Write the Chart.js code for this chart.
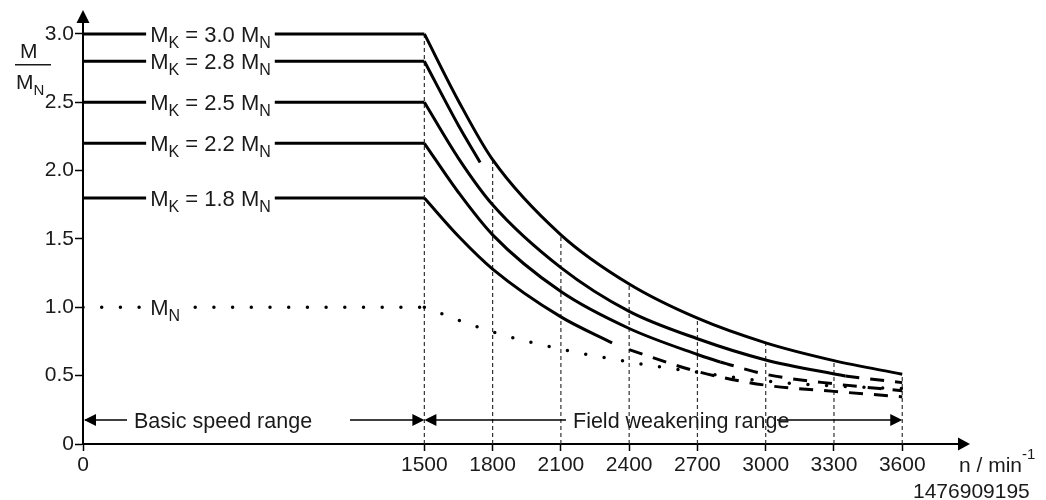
<!DOCTYPE html>
<html lang="en">
<head>
  <meta charset="UTF-8">
  <title>Torque vs speed, field weakening</title>
  <script src="https://cdn.jsdelivr.net/npm/chart.js"></script>
  <style>
    body { margin: 0; background: #fff; }
    .wrap { width: 1046px; height: 500px; }
  </style>
</head>
<body>
  <div class="wrap"><canvas id="torqueChart"></canvas></div>

  <script>
    // axis ticks
    const speedTicks = [0, 1500, 1800, 2100, 2400, 2700, 3000, 3300, 3600];
    const torqueTicks = [0, 0.5, 1.0, 1.5, 2.0, 2.5, 3.0];

    // breakdown torque levels M_K / M_N in the basic speed range
    const kLevels = [3.0, 2.8, 2.5, 2.2, 1.8];
    const kLabels = ['3.0', '2.8', '2.5', '2.2', '1.8'];
    const baseEnd = 1500;

    // field weakening curves, solid parts
    const n30 = [1500, 1650, 1800, 2100, 2400, 2700, 3000, 3300, 3600];
    const m30 = [3.0, 2.51, 2.08, 1.53, 1.17, 0.92, 0.74, 0.61, 0.51];
    const n28 = [1500, 1650, 1745];
    const m28 = [2.8, 2.33, 2.06];
    const n25 = [1500, 1650, 1800, 2100, 2400, 2700, 3000, 3350];
    const m25 = [2.5, 2.09, 1.75, 1.29, 0.97, 0.77, 0.615, 0.497];
    const n22 = [1500, 1650, 1800, 2100, 2400, 2700, 2800];
    const m22 = [2.2, 1.84, 1.53, 1.115, 0.845, 0.655, 0.60];
    const n18 = [1500, 1650, 1800, 2100, 2325];
    const m18 = [1.8, 1.52, 1.28, 0.93, 0.74];

    // dashed continuations
    const n25d = [3350, 3600];
    const m25d = [0.497, 0.449];
    const n22d = [2800, 3000, 3300, 3600];
    const m22d = [0.60, 0.51, 0.44, 0.39];
    const n18d = [2400, 2700, 3000, 3300, 3600];
    const m18d = [0.69, 0.53, 0.43, 0.385, 0.345];

    // rated torque M_N (dotted)
    const nMN = [1500, 1800, 2100, 2400, 2700, 3000, 3300, 3600];
    const mMN = [1.0, 0.82, 0.695, 0.60, 0.525, 0.46, 0.425, 0.405];

    const pts = (ns, ms) => ns.map((n, i) => ({ x: n, y: ms[i] }));

    const solid = (data) => ({
      data, borderColor: '#000', borderWidth: 3, pointRadius: 0,
      cubicInterpolationMode: 'monotone', borderCapStyle: 'butt', order: 1
    });
    const dashed = (data) => ({
      data, borderColor: '#000', borderWidth: 3, pointRadius: 0,
      cubicInterpolationMode: 'monotone', borderDash: [14, 11], order: 1
    });
    const dotted = (data) => ({
      data, borderColor: '#000', borderWidth: 3.5, pointRadius: 0,
      cubicInterpolationMode: 'monotone', borderDash: [0, 18.7],
      borderCapStyle: 'round', order: 1
    });

    const datasets = [];
    kLevels.forEach(k => datasets.push(solid([{ x: 0, y: k }, { x: baseEnd, y: k }])));
    datasets.push(solid(pts(n30, m30)));
    datasets.push(solid(pts(n28, m28)));
    datasets.push(solid(pts(n25, m25)));
    datasets.push(solid(pts(n22, m22)));
    datasets.push(solid(pts(n18, m18)));
    datasets.push(dashed(pts(n25d, m25d)));
    datasets.push(dashed(pts(n22d, m22d)));
    datasets.push(dashed(pts(n18d, m18d)));
    datasets.push(dotted([{ x: 0, y: 1.0 }, { x: baseEnd, y: 1.0 }]));
    datasets.push(dotted(pts(nMN, mMN)));

    // thin dashed drop lines from the top curve down to the axis
    speedTicks.filter(n => n >= baseEnd).forEach(n => {
      const top = m30[n30.indexOf(n)];
      datasets.push({
        data: [{ x: n, y: 0 }, { x: n, y: top }],
        borderColor: '#333', borderWidth: 1.2, borderDash: [4, 3],
        pointRadius: 0, order: 5
      });
    });

    const FONT = "'Liberation Sans', Arial, Helvetica, sans-serif";

    // draws text with subscripts / superscripts, returns width
    function richText(ctx, parts, x, y, measureOnly, size) {
      const main = size || 21;
      let cx = x;
      parts.forEach(p => {
        ctx.font = (p.sub || p.sup ? Math.round(main * 0.72) : main) + 'px ' + FONT;
        const dy = p.sub ? 6 : (p.sup ? -13 : 0);
        if (!measureOnly) ctx.fillText(p.t, cx, y + dy);
        cx += ctx.measureText(p.t).width;
      });
      return cx - x;
    }

    function arrowHead(ctx, tipX, tipY, dir, len, half) {
      ctx.beginPath();
      if (dir === 'left' || dir === 'right') {
        const s = dir === 'right' ? -1 : 1;
        ctx.moveTo(tipX, tipY);
        ctx.lineTo(tipX + s * len, tipY - half);
        ctx.lineTo(tipX + s * len, tipY + half);
      } else {
        ctx.moveTo(tipX, tipY);
        ctx.lineTo(tipX - half, tipY + len);
        ctx.lineTo(tipX + half, tipY + len);
      }
      ctx.closePath();
      ctx.fill();
    }

    const overlay = {
      id: 'overlay',
      afterDraw(chart) {
        const { ctx, chartArea: ca, scales: { x, y } } = chart;
        ctx.save();
        ctx.fillStyle = '#000';
        ctx.strokeStyle = '#000';
        ctx.textBaseline = 'alphabetic';
        ctx.textAlign = 'left';

        // axis arrows
        arrowHead(ctx, ca.right + 12, ca.bottom, 'right', 12, 6.5);
        arrowHead(ctx, ca.left, ca.top - 13, 'up', 13, 6.5);

        // labels on the flat lines
        const lx = x.getPixelForValue(295);
        const labelOn = (val, parts) => {
          const py = y.getPixelForValue(val);
          const w = richText(ctx, parts, 0, 0, true, 22);
          ctx.fillStyle = '#fff';
          ctx.fillRect(lx - 4, py - 12, w + 8, 26);
          ctx.fillStyle = '#1a1a1a';
          richText(ctx, parts, lx, py + 8, false, 22);
        };
        kLevels.forEach((k, i) => labelOn(k, [
          { t: 'M' }, { t: 'K', sub: true }, { t: ' = ' + kLabels[i] + ' ' },
          { t: 'M' }, { t: 'N', sub: true }
        ]));
        labelOn(1.0, [{ t: 'M' }, { t: 'N', sub: true }]);

        // speed range annotations
        const ry = y.getPixelForValue(0.175);
        const x0 = x.getPixelForValue(0);
        const x15 = x.getPixelForValue(1500);
        const x36 = x.getPixelForValue(3600);
        ctx.lineWidth = 1.5;
        ctx.fillStyle = '#000';
        const seg = (a, b) => { ctx.beginPath(); ctx.moveTo(a, ry); ctx.lineTo(b, ry); ctx.stroke(); };
        seg(x0 + 2, 127);
        seg(350, x15 - 4);
        arrowHead(ctx, x0 + 1, ry, 'left', 12, 6);
        arrowHead(ctx, x15, ry, 'right', 12, 6);
        seg(x15 + 4, 566);
        seg(777, x36 - 4);
        arrowHead(ctx, x15, ry, 'left', 12, 6);
        arrowHead(ctx, x36, ry, 'right', 12, 6);

        ctx.fillStyle = '#1a1a1a';
        ctx.font = '21.5px ' + FONT;
        ctx.fillText('Basic speed range', 134, ry + 7.5);
        ctx.fillText('Field weakening range', 573, ry + 7.5);

        // axis titles
        richText(ctx, [{ t: 'n / min' }, { t: '-1', sup: true }], 959, 472);
        ctx.font = '21px ' + FONT;
        ctx.fillText('1476909195', 913, 498);

        ctx.fillText('M', 20, 58);
        ctx.fillRect(15, 64, 36, 1.5);
        richText(ctx, [{ t: 'M' }, { t: 'N', sub: true }], 16, 89);

        ctx.restore();
      }
    };

    const chart = new Chart(document.getElementById('torqueChart'), {
      type: 'line',
      data: { datasets },
      options: {
        responsive: true,
        maintainAspectRatio: false,
        animation: false,
        layout: { padding: { left: 0, right: 88, top: 23, bottom: 0 } },
        plugins: { legend: { display: false }, tooltip: { enabled: false } },
        scales: {
          x: {
            type: 'linear',
            min: 0,
            max: 3845,
            afterBuildTicks: s => { s.ticks = speedTicks.map(v => ({ value: v })); },
            afterFit: s => { s.height = 56; },
            ticks: {
              autoSkip: false, maxRotation: 0, padding: 2, color: '#1a1a1a',
              font: { size: 21, family: FONT },
              callback: v => String(v)
            },
            grid: {
              display: true, drawOnChartArea: false, drawTicks: true,
              tickLength: 7, tickColor: '#000', tickWidth: 1.5
            },
            border: { display: true, color: '#000', width: 2 }
          },
          y: {
            type: 'linear',
            min: 0,
            max: 3.08,
            afterBuildTicks: s => { s.ticks = torqueTicks.map(v => ({ value: v })); },
            afterFit: s => { s.width = 83; },
            ticks: {
              padding: 1, color: '#1a1a1a',
              font: { size: 21, family: FONT },
              callback: v => (v === 0 ? '0' : v.toFixed(1))
            },
            grid: {
              display: true, drawOnChartArea: false, drawTicks: true,
              tickLength: 8, tickColor: '#000', tickWidth: 1.5
            },
            border: { display: true, color: '#000', width: 2 }
          }
        }
      },
      plugins: [overlay]
    });
  </script>
</body>
</html>
